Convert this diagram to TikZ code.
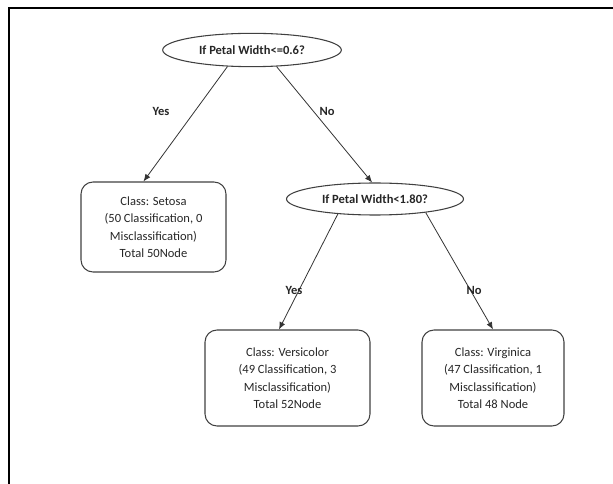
\documentclass[tikz,border=0pt]{standalone}
\usepackage{fontspec}
\setmainfont{Carlito}
\usetikzlibrary{shapes.geometric,arrows.meta,calc}

\begin{document}
\begin{tikzpicture}[x=0.75pt, y=-0.75pt,
  every node/.style={font=\fontsize{9.4}{13.1}\selectfont, text=black!85},
  cond/.style={draw=black!75, line width=0.8pt, ellipse, inner sep=0pt, font=\fontsize{9.4}{13.1}\selectfont\bfseries},
  leaf/.style={draw=black!75, line width=0.8pt, rounded corners=9pt, align=center, inner sep=0pt},
  edge/.style={draw=black!80, line width=0.6pt, -{Latex[length=5.5pt,width=4.5pt]}},
  ans/.style={font=\fontsize{9.4}{13.1}\selectfont\bfseries}]
  \useasboundingbox (0,0) rectangle (613,484);
  \draw[line width=1.5pt] (8.5,484) -- (8.5,8.5) -- (613,8.5);
  % tests
  \node[cond, minimum width=134pt, minimum height=25pt] (q1) at (252,50) {If Petal Width<=0.6?};
  \node[cond, minimum width=132.75pt, minimum height=24pt] (q2) at (375,199) {If Petal Width<1.80?};
  % classes
  \node[leaf, minimum width=108.75pt, minimum height=67.5pt] (setosa) at (153.5,227)
    {Class: Setosa\\(50 Classification, 0\\Misclassification)\\Total 50Node};
  \node[leaf, minimum width=123.75pt, minimum height=72pt] (versicolor) at (287.5,378)
    {Class: Versicolor\\(49 Classification, 3\\Misclassification)\\Total 52Node};
  \node[leaf, minimum width=106.5pt, minimum height=72pt] (virginica) at (493,378)
    {Class: Virginica\\(47 Classification, 1\\Misclassification)\\Total 48 Node};
  % branches
  \draw[edge] (q1.214) -- ($(setosa.north)+(-10,0)$);
  \draw[edge] (q1.326) -- (q2.100);
  \draw[edge] (q2.202) -- ($(versicolor.north)+(-8.5,0)$);
  \draw[edge] (q2.345) -- (virginica.north);
  \node[ans] (yes1) at (161,111) {Yes};
  \node[ans] (no1) at (327,111) {No};
  \node[ans] (yes2) at (294,290) {Yes};
  \node[ans] (no2) at (474,290) {No};
\end{tikzpicture}
\end{document}
